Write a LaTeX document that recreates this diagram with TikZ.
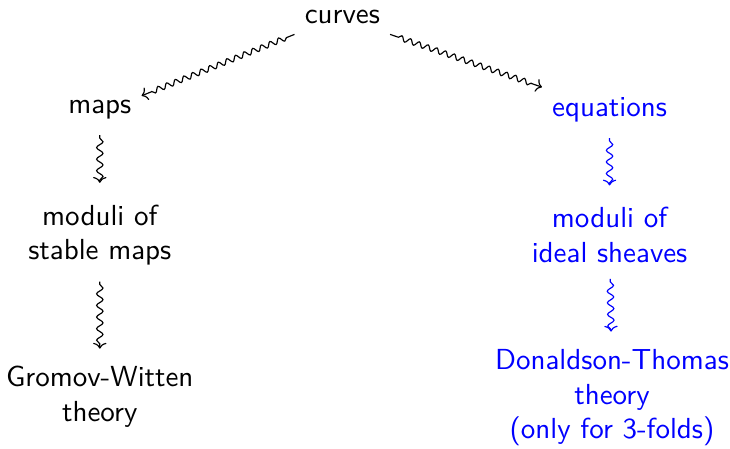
\documentclass[tikz,border=0pt]{standalone}
\usepackage{xcolor}
\usepackage{tikz}
\usetikzlibrary{arrows.meta, positioning, decorations.pathmorphing}

\begin{document}
\begin{tikzpicture}[
	every node/.style={font=\sffamily, align=center},
	obj/.style={text=black},
	dt/.style={text=blue},
	squig/.style={-{To[width=4.6pt,length=2pt]}, decorate, decoration={snake, amplitude=0.9pt, segment length=3.2pt, pre length=3pt, post length=3pt}},
	vsquig/.style={squig, decoration={amplitude=1.1pt, segment length=4pt}, shorten <=2pt, shorten >=2.5pt}
	]
	\useasboundingbox (0,0) rectangle (8.85,-5.44);
	\node[obj] (curves) at (4.15,-0.21) {curves};
	\node[obj] (maps) at (1.21,-1.33) {maps};
	\node[dt] (eqs) at (7.39,-1.33) {equations};
	\node[obj] (stable) at (1.21,-2.85) {moduli of \\ stable maps};
	\node[dt] (sheaves) at (7.39,-2.85) {moduli of \\ ideal sheaves};
	\node[obj] (gw) at (1.21,-4.81) {Gromov-Witten \\ theory};
	\node[dt] (dtt) at (7.42,-4.82) {Donaldson-Thomas \\ theory \\ (only for 3-folds)};
	
	\draw[squig] (curves.south west) -- ([yshift=-2pt]maps.north east);
	\draw[squig] (curves.south east) -- (eqs.north west);
	\draw[vsquig, shorten >=4pt] (maps) -- (stable);
	\draw[vsquig] (stable) -- (gw);
	\draw[vsquig, blue, shorten >=4pt] (eqs) -- (sheaves);
	\draw[vsquig, blue] (sheaves) -- (dtt);
\end{tikzpicture}
\end{document}
